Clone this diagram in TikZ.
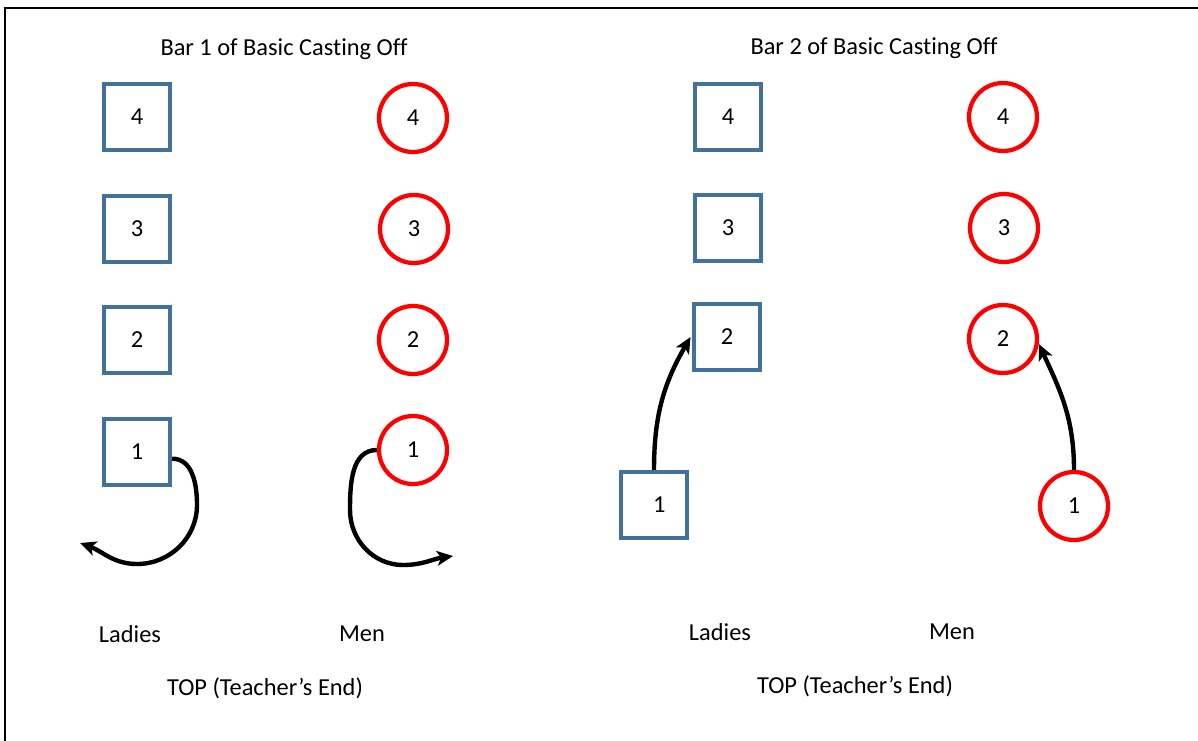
\documentclass[tikz,border=0pt]{standalone}
\usepackage{fontspec}
\setmainfont[Ligatures=NoCommon]{Carlito}
\usetikzlibrary{arrows.meta}
\definecolor{ladyblue}{RGB}{65,113,156}
\begin{document}
\begin{tikzpicture}[x=0.75pt,y=-0.75pt,
  every node/.style={font=\fontsize{18.3}{22}\selectfont},
  lady/.style={draw=ladyblue,line width=3.2pt,minimum size=49.5pt,inner sep=0pt,shape=rectangle},
  man/.style={draw=red,line width=3.2pt,circle,minimum size=51pt,inner sep=0pt},
  move/.style={line width=3.3pt,-{Stealth[length=12pt,width=11pt,inset=3pt]}},
  lbl/.style={anchor=center}]
\clip (0,0) rectangle (1198,740);
\draw[line width=1.5pt] (5,8) rectangle (1220,760);
% Bar 1
\node[lbl] (t1) at (284,49) {Bar 1 of Basic Casting Off};
\node[lady] (a4) at (137,117) {4};
\node[lady] (a3) at (137,229) {3};
\node[lady] (a2) at (137,340) {2};
\node[lady] (a1) at (137,452) {1};
\node[man] (b4) at (413,118) {4};
\node[man] (b3) at (414,229) {3};
\node[man] (b2) at (413,340) {2};
\node[man] (b1) at (413,450) {1};
\coordinate (ae) at (80,543);
\coordinate (be) at (453,556);
\draw[move] ([yshift=-5pt]a1.east) to[out=0,in=90] (197,505) to[out=-90,in=0] (137,564) to[out=180,in=-20] (ae);
\draw[move] (b1.west) to[out=180,in=90] (350,510) to[out=-90,in=180] (403,565) to[out=0,in=188] (be);
\node[lbl] (lad1) at (130,634) {Ladies};
\node[lbl] (men1) at (362,634) {Men};
\node[lbl] (top1) at (265,688) {TOP (Teacher’s End)};
% Bar 2
\node[lbl] (t2) at (874,48) {Bar 2 of Basic Casting Off};
\node[lady] (c4) at (728,117) {4};
\node[lady] (c3) at (728,228) {3};
\node[lady] (c2) at (727,337) {2};
\node[lady] (c1) at (654,505) {\hspace*{8pt}\raisebox{-5pt}{1}};
\node[man] (d4) at (1003,117) {4};
\node[man] (d3) at (1004,228) {3};
\node[man] (d2) at (1003,339) {2};
\node[man] (d1) at (1074,506) {\raisebox{-4pt}{1}};
\draw[move] (c1.north) to[out=90,in=-120] ([xshift=-1pt]c2.west);
\draw[move] (d1.north) to[out=90,in=-65] (d2.-8);
\node[lbl] (lad2) at (720,632) {Ladies};
\node[lbl] (men2) at (952,632) {Men};
\node[lbl] (top2) at (855,686) {TOP (Teacher’s End)};
\end{tikzpicture}
\end{document}
